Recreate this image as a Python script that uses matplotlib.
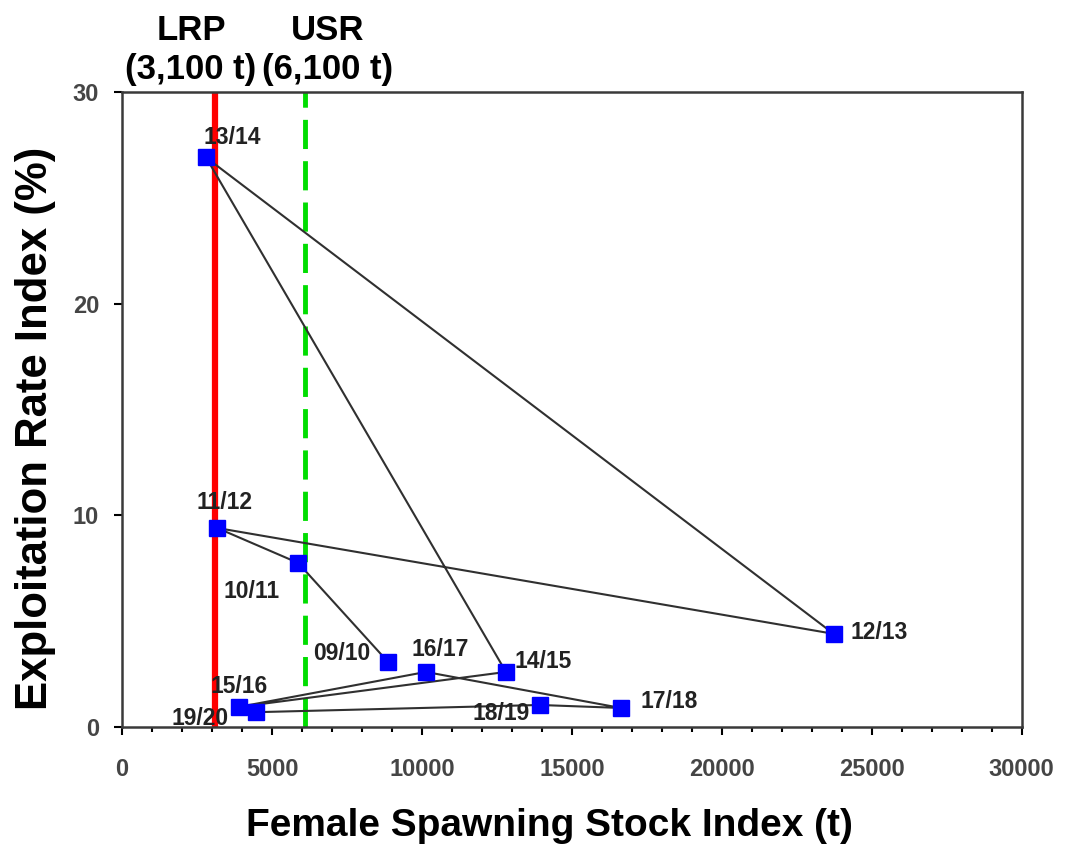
import matplotlib
matplotlib.use('Agg')
import matplotlib.pyplot as plt
from matplotlib.ticker import MultipleLocator

plt.rcParams['font.family'] = ['Liberation Sans', 'DejaVu Sans']

# fishing seasons, in time order
seasons = ['09/10', '10/11', '11/12', '12/13', '13/14', '14/15',
           '15/16', '16/17', '17/18', '18/19', '19/20']
ssb = [8870, 5870, 3170, 23730, 2800, 12800, 3900, 10130, 16630, 13930, 4470]
expl = [3.07, 7.75, 9.4, 4.4, 26.9, 2.6, 0.95, 2.6, 0.9, 1.04, 0.7]

lrp = 3100
usr = 6100

# label offsets (points) and alignment per season
offsets = {
    '09/10': (-13, 1.5, 'right'),
    '10/11': (-13, -25, 'right'),
    '11/12': (5, 14, 'center'),
    '12/13': (12, -4, 'left'),
    '13/14': (-2, 10, 'left'),
    '14/15': (6.5, 3, 'left'),
    '15/16': (0, 10, 'center'),
    '16/17': (10, 11.5, 'center'),
    '17/18': (14, 0, 'left'),
    '18/19': (-7, -11, 'right'),
    '19/20': (-20, -9, 'right'),
}

fig = plt.figure(figsize=(10.71, 8.5), dpi=100)
ax = fig.add_axes([0.114, 0.1447, 0.84, 0.7473])

ax.axvline(lrp, color='#ff0000', lw=4.5, zorder=2)
ax.axvline(usr, color='#00dd00', lw=3.5, ls=(0, (6, 2.5)), zorder=2)

ax.plot(ssb, expl, color='#303030', lw=1.5, zorder=3)
ax.plot(ssb, expl, 's', color='#0000ff', ms=11, zorder=4)

for s, x, y in zip(seasons, ssb, expl):
    dx, dy, ha = offsets[s]
    ax.annotate(s, (x, y), xytext=(dx, dy), textcoords='offset points',
                ha=ha, va='baseline', fontsize=16.5, fontweight='bold',
                color='#222222', zorder=5)

ax.set_xlim(0, 30000)
ax.set_ylim(0, 30)
ax.xaxis.set_major_locator(MultipleLocator(5000))
ax.xaxis.set_minor_locator(MultipleLocator(1000))
ax.yaxis.set_major_locator(MultipleLocator(10))
ax.tick_params(which='major', length=5.5, width=1.5, labelsize=17,
               labelcolor='#454545')
ax.tick_params(which='minor', length=3.5, width=1.5)
ax.tick_params(axis='x', pad=17)
ax.tick_params(axis='y', pad=11)
for lab in ax.get_xticklabels() + ax.get_yticklabels():
    lab.set_fontweight('bold')
for sp in ax.spines.values():
    sp.set_linewidth(1.8)
    sp.set_color('#3a3a3a')

ax.set_xlabel('Female Spawning Stock Index (t)', fontsize=28,
              fontweight='bold')
ax.set_ylabel('Exploitation Rate Index (%)', fontsize=31.5,
              fontweight='bold')
ax.xaxis.set_label_coords(0.475, -0.128)
ax.yaxis.set_label_coords(-0.074, 0.47)

ax.text(2300, 30.29, 'LRP\n(3,100 t)', ha='center', va='bottom',
        fontsize=25, fontweight='bold', linespacing=1.2)
ax.text(6850, 30.29, 'USR\n(6,100 t)', ha='center', va='bottom',
        fontsize=25, fontweight='bold', linespacing=1.2)

fig.savefig('out.png', dpi=100)
